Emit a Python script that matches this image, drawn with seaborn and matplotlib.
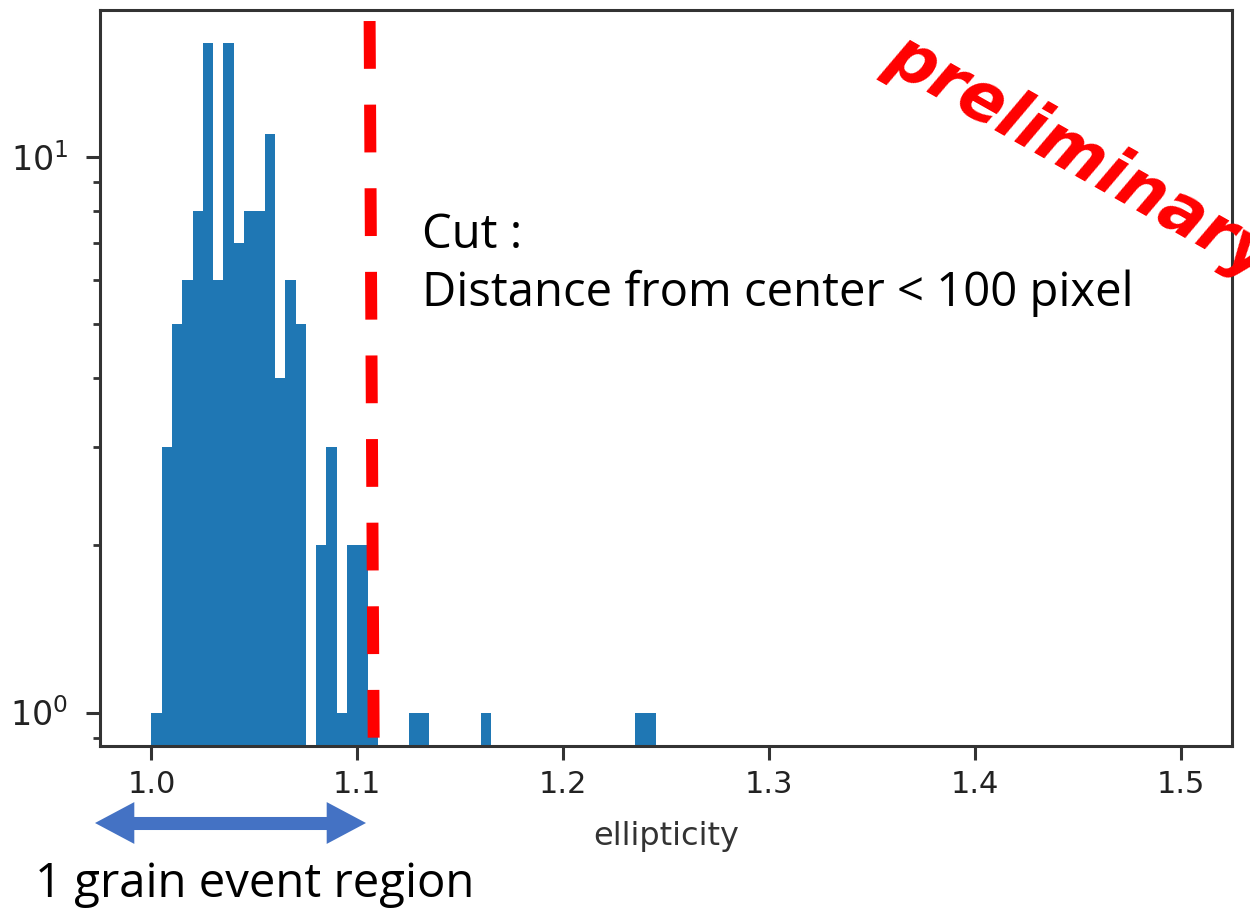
import numpy as np
import pandas as pd
import seaborn as sns
import matplotlib
matplotlib.use("Agg")
import matplotlib.pyplot as plt
from matplotlib.patches import FancyArrowPatch
from matplotlib.lines import Line2D
import matplotlib.transforms as mtransforms

# ---- data (histogram, bin width 0.005, range 1.0-1.5) ----
bin_left = [1.000, 1.005, 1.010, 1.015, 1.020, 1.025, 1.030, 1.035, 1.040, 1.045,
            1.050, 1.055, 1.060, 1.065, 1.070, 1.080, 1.085, 1.090, 1.095, 1.100,
            1.105, 1.125, 1.130, 1.160, 1.235, 1.240]
counts = [1, 3, 5, 6, 8, 16, 6, 16, 7, 8,
          8, 11, 4, 6, 5, 2, 3, 1, 2, 2,
          1, 1, 1, 1, 1, 1]
hist_range = (1.0, 1.5)
bin_width = 0.005
x_ticks = [1.0, 1.1, 1.2, 1.3, 1.4, 1.5]
cut_value = 1.107

df = pd.DataFrame({"ellipticity": np.array(bin_left) + bin_width / 2, "count": counts})

sns.set_style("ticks")
plt.rcParams["font.family"] = ["DejaVu Sans"]

fig = plt.figure(figsize=(12.5, 9.08), dpi=100)
ax = fig.add_axes([0.08, 0.1784, 0.9056, 0.8106])

sns.histplot(data=df, x="ellipticity", weights="count", binwidth=bin_width,
             binrange=hist_range, ax=ax,
             color="#1f77b4", alpha=1.0, linewidth=0, edgecolor="none")
ax.set_yscale("log")

# limits as matplotlib autoscale would give (5% margins)
span = hist_range[1] - hist_range[0]
ax.set_xlim(hist_range[0] - 0.05 * span, hist_range[1] + 0.05 * span)
lo, hi = 0.0, np.log10(max(counts))
ax.set_ylim(10 ** (lo - 0.05 * (hi - lo)), 10 ** (hi + 0.05 * (hi - lo)))

ax.set_xticks(x_ticks)
ax.set_xticklabels([f"{t:.1f}" for t in x_ticks])
ax.set_xlabel("ellipticity", fontsize=23, color="#333333", labelpad=16)
ax.set_ylabel("")

for s in ax.spines.values():
    s.set_visible(True)
    s.set_color("#333333")
    s.set_linewidth(2.2)
ax.tick_params(axis="both", which="major", length=10, width=2.2, color="#333333",
               labelcolor="#222222")
ax.tick_params(axis="x", which="major", labelsize=22, pad=7)
ax.tick_params(axis="y", which="major", labelsize=24, pad=13)
ax.tick_params(axis="y", which="minor", length=5, width=2.0, color="#333333")

# red dashed cut line (slightly tilted, drawn over the axes)
trans = mtransforms.blended_transform_factory(ax.transData, ax.transAxes)
ax.plot([cut_value - 0.001, cut_value + 0.001], [0.985, -0.006], transform=trans,
        color="#ff0000", linewidth=8.6, dashes=(4.0, 3.0), solid_capstyle="butt",
        dash_capstyle="butt", clip_on=False, zorder=5)

# annotations
jp = ["Open Sans", "Noto Sans CJK JP", "DejaVu Sans"]
fig.text(422 / 1250, 1 - 248 / 908, "Cut :", fontsize=34, family=jp,
         ha="left", va="baseline", color="black")
fig.text(422 / 1250, 1 - 306 / 908, "Distance from center < 100 pixel", fontsize=34,
         family=jp, ha="left", va="baseline", color="black")
fig.text(35 / 1250, 1 - 897 / 908, "1 grain event region", fontsize=34, family=jp,
         ha="left", va="baseline", color="black")

fig.text(1080 / 1250, 1 - 157 / 908, "preliminary", fontsize=48, color="#ff0000",
         fontweight="bold", fontstyle="italic", rotation=-29.5,
         rotation_mode="anchor", ha="center", va="center", family=["DejaVu Sans"])

# blue double-headed arrow below the axis: shaft + two filled heads
arrow_color = "#4472c4"
y_arrow = 1 - 823 / 908
x_left, x_right = 95 / 1250, 366 / 1250
base_left, base_right = 131 / 1250, 330 / 1250
shaft = Line2D([base_left - 4 / 1250, base_right + 4 / 1250], [y_arrow, y_arrow],
               transform=fig.transFigure, color=arrow_color, linewidth=9.4,
               solid_capstyle="butt")
fig.lines.append(shaft)
head_style = "-|>,head_length=28.3,head_width=15.06"
mid = (base_left + base_right) / 2
for tip in [x_left, x_right]:
    arr = FancyArrowPatch((mid, y_arrow), (tip, y_arrow), arrowstyle=head_style,
                          mutation_scale=1, transform=fig.transFigure,
                          color=arrow_color, lw=0, shrinkA=0, shrinkB=0)
    fig.patches.append(arr)

fig.savefig("out.png", dpi=100)
